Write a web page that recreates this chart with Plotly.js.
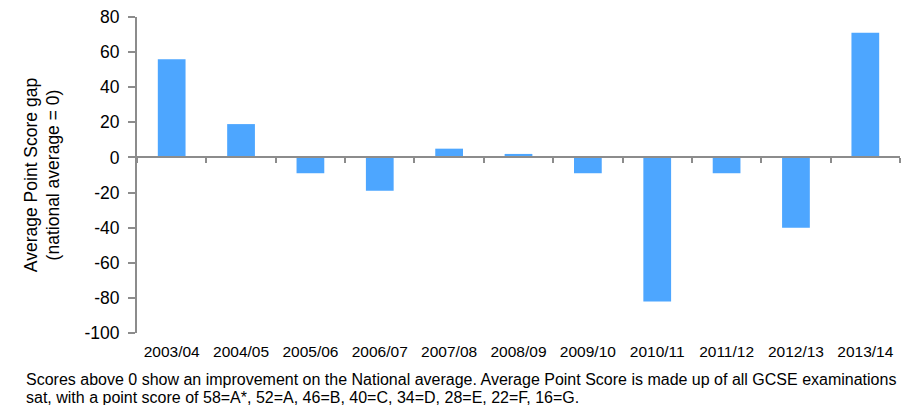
<!DOCTYPE html>
<html>
<head>
<meta charset="utf-8">
<script src="https://cdn.plot.ly/plotly-3.0.1.min.js"></script>
<style>
  html, body { margin: 0; padding: 0; background: #fff; }
  #chart { width: 905px; height: 405px; }
</style>
</head>
<body>
<div id="chart"></div>
<script>
// School years shown along the horizontal axis
const years = ["2003/04", "2004/05", "2005/06", "2006/07", "2007/08", "2008/09",
               "2009/10", "2010/11", "2011/12", "2012/13", "2013/14"];
// Average Point Score gap against the national average (0)
const scoreGap = [56, 19, -9, -19, 5, 2, -9, -82, -9, -40, 71];
// Vertical axis ticks
const yTicks = [-100, -80, -60, -40, -20, 0, 20, 40, 60, 80];

const noteLine1 = "Scores above 0 show an improvement on the National average. Average Point Score is made up of all GCSE examinations";
const noteLine2 = "sat, with a point score of 58=A*, 52=A, 46=B, 40=C, 34=D, 28=E, 22=F, 16=G.";

const axisGrey = "#8c8c8c";
const font = "Liberation Sans, Arial, Helvetica, sans-serif";
const yMin = yTicks[0], yMax = yTicks[yTicks.length - 1];

const bars = {
  type: "bar",
  x: years,
  y: scoreGap,
  marker: { color: "#4da6ff", line: { width: 0 } },
  width: 0.4,
  hoverinfo: "x+y"
};

// Carrier for the zero-line axis (category boundaries get tick marks)
const zeroAxisCarrier = {
  type: "scatter",
  mode: "markers",
  x: years,
  y: years.map(() => 0),
  xaxis: "x2",
  yaxis: "y",
  marker: { opacity: 0, size: 1 },
  hoverinfo: "skip"
};

const layout = {
  width: 905,
  height: 405,
  margin: { l: 137, r: 5, t: 17, b: 72 },
  paper_bgcolor: "#fff",
  plot_bgcolor: "#fff",
  showlegend: false,
  font: { family: font, color: "#000" },
  xaxis: {
    type: "category",
    categoryorder: "array",
    categoryarray: years,
    range: [-0.5, years.length - 0.5],
    showline: false,
    showgrid: false,
    zeroline: false,
    ticks: "",
    ticklabelstandoff: 7,
    tickfont: { size: 15.5, color: "#000" },
    fixedrange: true
  },
  xaxis2: {
    type: "category",
    categoryorder: "array",
    categoryarray: years,
    overlaying: "x",
    anchor: "free",
    position: (0 - yMin) / (yMax - yMin),
    range: [-0.5, years.length - 0.5],
    tickson: "boundaries",
    ticks: "outside",
    ticklen: 5,
    tickwidth: 2,
    tickcolor: axisGrey,
    showticklabels: false,
    showline: true,
    linecolor: axisGrey,
    linewidth: 2,
    showgrid: false,
    zeroline: false,
    fixedrange: true
  },
  yaxis: {
    range: [yMin, yMax],
    tickvals: yTicks,
    ticktext: yTicks.map(String),
    showline: true,
    linecolor: axisGrey,
    linewidth: 2,
    ticks: "outside",
    ticklen: 7,
    tickwidth: 2,
    tickcolor: axisGrey,
    ticklabelstandoff: 5,
    showgrid: false,
    zeroline: false,
    tickfont: { size: 17.5, color: "#000" },
    title: {
      text: "Average Point Score gap<br>(national average = 0)",
      font: { size: 17.5, color: "#000" },
      standoff: 20
    },
    automargin: false,
    fixedrange: true
  },
  annotations: [
    {
      xref: "paper", yref: "paper",
      x: -113 / 763, y: (333 - 380) / 316,
      xanchor: "left", yanchor: "middle",
      showarrow: false,
      text: noteLine1,
      font: { size: 16, color: "#000", family: font }
    },
    {
      xref: "paper", yref: "paper",
      x: -113 / 763, y: (333 - 397) / 316,
      xanchor: "left", yanchor: "middle",
      showarrow: false,
      text: noteLine2,
      font: { size: 16, color: "#000", family: font }
    }
  ]
};

Plotly.newPlot("chart", [bars, zeroAxisCarrier], layout, { displayModeBar: false, staticPlot: true });
</script>
</body>
</html>
